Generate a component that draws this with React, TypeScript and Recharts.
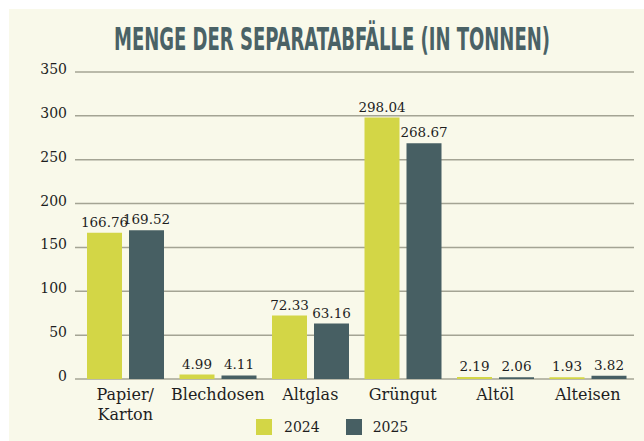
import React from 'react';
import { BarChart, Bar, XAxis, YAxis, CartesianGrid, LabelList } from 'recharts';

const categories = ['Papier/Karton', 'Blechdosen', 'Altglas', 'Grüngut', 'Altöl', 'Alteisen'];
const values2024 = [166.76, 4.99, 72.33, 298.04, 2.19, 1.93];
const values2025 = [169.52, 4.11, 63.16, 268.67, 2.06, 3.82];
const yTicks = [0, 50, 100, 150, 200, 250, 300, 350];
const seriesNames = ['2024', '2025'];
const title = 'MENGE DER SEPARATABFÄLLE (IN TONNEN)';

const COLOR_2024 = '#d3d646';
const COLOR_2025 = '#475f63';
const BG = '#f9f9ea';
const GRID = '#a4a494';
const TEXT = '#1e1e1e';
const SERIF = '"DejaVu Serif", serif';

const data = categories.map((c, i) => ({ name: c, y2024: values2024[i], y2025: values2025[i] }));

const XTick = (props: any) => {
  const { x, y, payload } = props;
  const label: string = payload.value;
  const idx = label.indexOf('/');
  const lines = idx >= 0 && idx < label.length - 1 ? [label.slice(0, idx + 1), label.slice(idx + 1)] : [label];
  return (
    <text x={x} y={y} textAnchor="middle" fill={TEXT} fontFamily={SERIF} fontSize={16}>
      {lines.map((l, i) => (
        <tspan key={i} x={x} dy={i === 0 ? 13 : 20}>{l}</tspan>
      ))}
    </text>
  );
};

const YTick = (props: any) => {
  const { x, y, payload } = props;
  return (
    <text x={x} y={y} dy={2} textAnchor="end" fill={TEXT} fontFamily={SERIF} fontSize={14}>
      {payload.value}
    </text>
  );
};

const fmt = (v: any) => Number(v).toFixed(2);

const TITLE_SX = 0.62;

export default function App() {
  return (
    <div style={{ position: 'fixed', left: 0, top: 0, width: 644, height: 441, background: '#ffffff', overflow: 'hidden' }}>
      <div style={{ position: 'absolute', left: 9, top: 9, right: 0, bottom: 0, background: BG }} />
      <svg width={644} height={70} style={{ position: 'absolute', left: 0, top: 0 }}>
        <g transform={`translate(114,50) scale(${TITLE_SX},1)`}>
          <text
            x={0}
            y={0}
            textLength={436 / TITLE_SX}
            lengthAdjust="spacingAndGlyphs"
            fill="#4a6266"
            fontFamily='"DejaVu Sans Condensed", "DejaVu Sans", sans-serif'
            fontWeight="bold"
            fontSize={32}
          >
            {title}
          </text>
        </g>
      </svg>
      <div style={{ position: 'absolute', left: 0, top: 0 }}>
        <BarChart
          width={644}
          height={441}
          data={data}
          margin={{ top: 72, right: 10, bottom: 32, left: 15 }}
          barSize={35}
          barGap={7}
        >
          <CartesianGrid vertical={false} stroke={GRID} strokeWidth={1.5} />
          <XAxis
            dataKey="name"
            height={30}
            axisLine={false}
            tickLine={false}
            interval={0}
            padding={{ left: 4, right: 0 }}
            tick={<XTick />}
          />
          <YAxis
            width={60}
            domain={[0, 350]}
            ticks={yTicks}
            axisLine={false}
            tickLine={false}
            tick={<YTick />}
          />
          <Bar dataKey="y2024" name={seriesNames[0]} fill={COLOR_2024} isAnimationActive={false}>
            <LabelList dataKey="y2024" position="top" offset={6} formatter={fmt} fill={TEXT} fontFamily={SERIF} fontSize={13.5} />
          </Bar>
          <Bar dataKey="y2025" name={seriesNames[1]} fill={COLOR_2025} isAnimationActive={false}>
            <LabelList dataKey="y2025" position="top" offset={6} formatter={fmt} fill={TEXT} fontFamily={SERIF} fontSize={13.5} />
          </Bar>
        </BarChart>
      </div>
      <div style={{ position: 'absolute', left: 256, top: 419, display: 'flex', alignItems: 'center', fontFamily: SERIF, fontSize: 14, color: TEXT }}>
        <span style={{ display: 'inline-block', width: 16, height: 16, background: COLOR_2024 }} />
        <span style={{ marginLeft: 12, lineHeight: '16px' }}>{seriesNames[0]}</span>
        <span style={{ display: 'inline-block', width: 16, height: 16, background: COLOR_2025, marginLeft: 26 }} />
        <span style={{ marginLeft: 11, lineHeight: '16px' }}>{seriesNames[1]}</span>
      </div>
    </div>
  );
}
